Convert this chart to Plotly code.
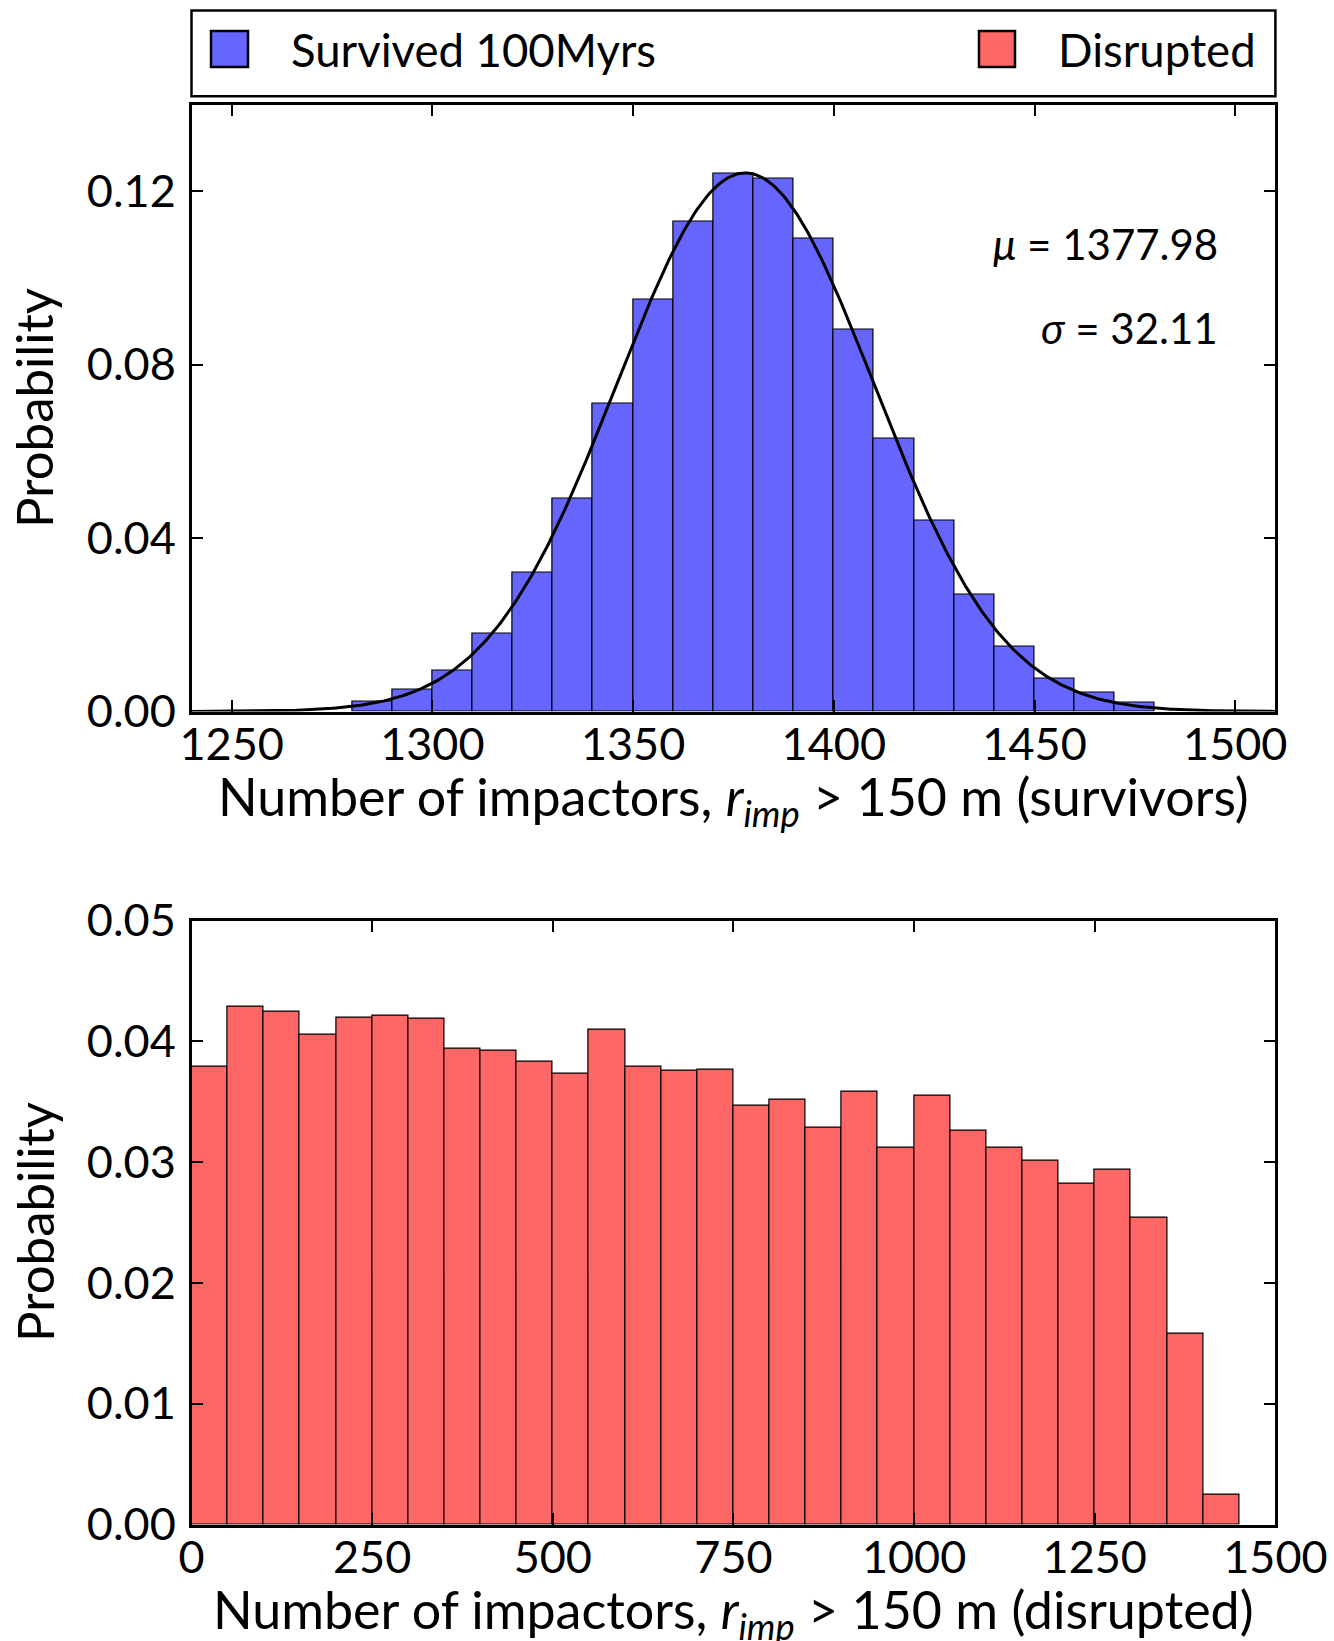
import numpy as np
import plotly.graph_objects as go

# ---- survivors: impactor counts in 10-wide bins (probability per bin) ----
surv_left_edges = [1280, 1290, 1300, 1310, 1320, 1330, 1340, 1350, 1360, 1370,
                   1380, 1390, 1400, 1410, 1420, 1430, 1440, 1450, 1460, 1470]
surv_prob = [0.0022, 0.0050, 0.0094, 0.0180, 0.0320, 0.0490, 0.0710, 0.0950, 0.1130, 0.1240,
             0.1230, 0.1090, 0.0880, 0.0630, 0.0440, 0.0270, 0.0150, 0.0075, 0.0044, 0.0020]
SURV_BIN = 10

# fitted normal for the survivors
MU = 1377.98
SIGMA = 32.11

# ---- disrupted: impactor counts in 50-wide bins ----
disr_left_edges = [0, 50, 100, 150, 200, 250, 300, 350, 400, 450,
                   500, 550, 600, 650, 700, 750, 800, 850, 900, 950,
                   1000, 1050, 1100, 1150, 1200, 1250, 1300, 1350, 1400]
disr_prob = [0.0379, 0.0429, 0.0425, 0.0406, 0.0420, 0.0421, 0.0419, 0.0394, 0.0392, 0.0383,
             0.0373, 0.0410, 0.0379, 0.0376, 0.0377, 0.0347, 0.0352, 0.0329, 0.0358, 0.0312,
             0.0355, 0.0326, 0.0312, 0.0301, 0.0282, 0.0294, 0.0254, 0.0158, 0.0025]
DISR_BIN = 50

top_xticks = [1250, 1300, 1350, 1400, 1450, 1500]
top_yticks = [0.00, 0.04, 0.08, 0.12]
bot_xticks = [0, 250, 500, 750, 1000, 1250, 1500]
bot_yticks = [0.00, 0.01, 0.02, 0.03, 0.04, 0.05]

BLUE = "#6666FF"
RED = "#FF6666"
FONT = "Lato"

W, H = 1334, 1641


def fx(px):
    return px / W


def fy(py):
    return 1 - py / H


x_dom = [fx(191.5), fx(1275.4)]
top_dom = [fy(711.5), fy(104.6)]
bot_dom = [fy(1524.5), fy(920.7)]

fig = go.Figure()

fig.add_trace(go.Bar(
    x=surv_left_edges, y=surv_prob, width=SURV_BIN, offset=0,
    marker=dict(color=BLUE, line=dict(color="black", width=1.2)),
    xaxis="x", yaxis="y", showlegend=False,
))

xc = np.linspace(1240, 1510, 541)
yc = SURV_BIN * np.exp(-0.5 * ((xc - MU) / SIGMA) ** 2) / (SIGMA * np.sqrt(2 * np.pi))
fig.add_trace(go.Scatter(
    x=xc, y=yc, mode="lines", line=dict(color="black", width=3),
    xaxis="x", yaxis="y", showlegend=False,
))

fig.add_trace(go.Bar(
    x=disr_left_edges, y=disr_prob, width=DISR_BIN, offset=0,
    marker=dict(color=RED, line=dict(color="black", width=1.2)),
    xaxis="x2", yaxis="y2", showlegend=False,
))

axis_common = dict(
    showgrid=False, zeroline=False, showline=True, linecolor="black", linewidth=2.5,
    mirror="allticks", ticks="inside", ticklen=12, tickwidth=1.5, tickcolor="black",
    tickfont=dict(family=FONT, size=45, color="black"), automargin=False,
)

fig.update_layout(
    width=W, height=H,
    margin=dict(l=0, r=0, t=0, b=0),
    paper_bgcolor="white", plot_bgcolor="white",
    bargap=0,
    font=dict(family=FONT, color="black"),
    xaxis=dict(domain=x_dom, range=[1240, 1510], tickvals=top_xticks,
               anchor="y", ticklabelstandoff=-8, **axis_common),
    yaxis=dict(domain=top_dom, range=[0, 0.14], tickvals=top_yticks, tickformat=".2f",
               anchor="x", ticklabelstandoff=4, **axis_common),
    xaxis2=dict(domain=x_dom, range=[0, 1500], tickvals=bot_xticks,
                anchor="y2", ticklabelstandoff=-8, **axis_common),
    yaxis2=dict(domain=bot_dom, range=[0, 0.05], tickvals=bot_yticks, tickformat=".2f",
                anchor="x2", ticklabelstandoff=4, **axis_common),
)

# legend frame and swatches
shapes = [
    dict(type="rect", xref="paper", yref="paper",
         x0=fx(191.5), x1=fx(1275.4), y0=fy(96.3), y1=fy(10.5),
         line=dict(color="black", width=2.5), fillcolor="white", layer="below"),
    dict(type="rect", xref="paper", yref="paper",
         x0=fx(211), x1=fx(248), y0=fy(67), y1=fy(31),
         line=dict(color="black", width=2.5), fillcolor=BLUE),
    dict(type="rect", xref="paper", yref="paper",
         x0=fx(979), x1=fx(1015), y0=fy(67), y1=fy(31),
         line=dict(color="black", width=2.5), fillcolor=RED),
]

annotations = [
    dict(text="Survived 100Myrs", xref="paper", yref="paper", x=fx(289), y=fy(50),
         xanchor="left", yanchor="middle", showarrow=False,
         font=dict(family=FONT, size=45.5, color="black")),
    dict(text="Disrupted", xref="paper", yref="paper", x=fx(1056), y=fy(50),
         xanchor="left", yanchor="middle", showarrow=False,
         font=dict(family=FONT, size=45.5, color="black")),
    dict(text="<i>μ</i> = %.2f" % MU, xref="paper", yref="paper", x=fx(1220), y=fy(244),
         xanchor="right", yanchor="middle", showarrow=False,
         font=dict(family=FONT, size=42, color="black")),
    dict(text="<i>σ</i> = %.2f" % SIGMA, xref="paper", yref="paper", x=fx(1220), y=fy(328),
         xanchor="right", yanchor="middle", showarrow=False,
         font=dict(family=FONT, size=42, color="black")),
    dict(text="Number of impactors, <i>r</i><sub><i>imp</i></sub> &gt; 150 m (survivors)",
         xref="paper", yref="paper", x=fx(733), y=fy(800),
         xanchor="center", yanchor="middle", showarrow=False,
         font=dict(family=FONT, size=52, color="black")),
    dict(text="Number of impactors, <i>r</i><sub><i>imp</i></sub> &gt; 150 m (disrupted)",
         xref="paper", yref="paper", x=fx(733), y=fy(1613),
         xanchor="center", yanchor="middle", showarrow=False,
         font=dict(family=FONT, size=52, color="black")),
    dict(text="Probability", xref="paper", yref="paper", x=fx(34), y=fy(408),
         xanchor="center", yanchor="middle", textangle=-90, showarrow=False,
         font=dict(family=FONT, size=51, color="black")),
    dict(text="Probability", xref="paper", yref="paper", x=fx(34), y=fy(1222),
         xanchor="center", yanchor="middle", textangle=-90, showarrow=False,
         font=dict(family=FONT, size=51, color="black")),
]

fig.update_layout(shapes=shapes, annotations=annotations)

fig.write_html("out.html")
